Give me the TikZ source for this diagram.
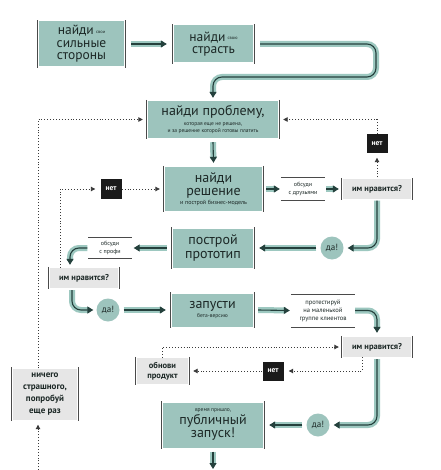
\documentclass[tikz,border=0pt]{standalone}
\usepackage{fontspec}
\setmainfont{PT Sans}
\usetikzlibrary{arrows.meta,calc}
\definecolor{boxteal}{HTML}{9DC4BD}
\definecolor{flowteal}{HTML}{9DC8C0}
\definecolor{flowdark}{HTML}{24403C}
\definecolor{txt}{HTML}{1C2826}
\definecolor{greyfill}{HTML}{E6E6E6}
\definecolor{sidegrey}{HTML}{4A4A4A}
\definecolor{dotgrey}{HTML}{3A3A3A}
\definecolor{netfill}{HTML}{1A1A1A}
\newcommand\fsz[2]{\fontsize{#1}{#2}\selectfont}
\newcommand\smalltxt[1]{{\fsz{5.5}{6.5}#1}}
\newcommand\vsides[1]{\draw[sideline] ([xshift=-1.6pt,yshift=1pt]#1.north west) -- ([xshift=-1.6pt,yshift=-1pt]#1.south west) ([xshift=1.6pt,yshift=1pt]#1.north east) -- ([xshift=1.6pt,yshift=-1pt]#1.south east);}
\newcommand\hrims[1]{\draw[rimline] ([xshift=-2pt]#1.north west) -- ([xshift=2pt]#1.north east) ([xshift=-2pt]#1.south west) -- ([xshift=2pt]#1.south east);}
\tikzset{
 tealbox/.style={fill=boxteal, text=txt, inner sep=0pt, align=center, font=\fsz{14}{14}},
 greybox/.style={fill=greyfill, text=txt, inner sep=0pt, align=center, font=\bfseries\fsz{8.5}{10}},
 whitebox/.style={inner sep=0pt, align=center, text=txt, font=\fsz{6}{7.5}},
 netbox/.style={fill=netfill, text=white, inner sep=0pt, minimum width=21pt, minimum height=19pt, font=\bfseries\fsz{7.5}{8}},
 dacircle/.style={circle, fill=boxteal, text=txt, inner sep=0pt, minimum size=23pt, font=\fsz{9}{9}},
 sideline/.style={draw=sidegrey, line width=0.9pt},
 rimline/.style={draw=sidegrey, line width=0.6pt},
 flow/.style={draw=flowteal, line width=6pt, rounded corners=9pt, shorten >=4pt, postaction={draw=flowdark, line width=1.1pt, shorten >=0pt, -{Triangle[length=6pt,width=7pt]}}},
 dotconn/.style={draw=dotgrey, line width=0.9pt, dash pattern=on 0.9pt off 2pt, -{Triangle[length=4.5pt,width=4.5pt]}},
}
\begin{document}
\begin{tikzpicture}[x=1pt,y=-1pt]
\useasboundingbox[fill=white] (0,0) rectangle (440,470);
% teal boxes
\node[tealbox, minimum width=85pt, minimum height=45pt, font=\fsz{13.5}{12.5}] (b1) at (81.5,44) {найди\,\raisebox{1.5pt}{\fsz{4.5}{5}свои}\\ сильные\\ стороны};
\node[tealbox, minimum width=79pt, minimum height=37pt, font=\fsz{13.5}{12.5}] (b2) at (213.5,44) {найди\,\raisebox{1.5pt}{\fsz{4.5}{5}свою}\\ страсть};
\node[tealbox, minimum width=130pt, minimum height=37pt] (b3) at (213,119.5) {найди проблему,\\[-4pt] \smalltxt{которая еще не решена,}\\[-7pt] \smalltxt{и за решение которой готовы платить}};
\node[tealbox, minimum width=97pt, minimum height=44pt] (b4) at (213.5,189) {найди\\[-1pt] решение\\[-5pt] \fsz{6}{7}и построй бизнес-модель};
\node[tealbox, minimum width=80pt, minimum height=39pt] (b5) at (213,248) {построй\\ прототип};
\node[tealbox, minimum width=81pt, minimum height=33pt] (b6) at (212.5,310) {запусти\\[-5pt] \smalltxt{бета-версию}};
\node[tealbox, minimum width=100pt, minimum height=45pt] (b7) at (213,425) {\smalltxt{время пришло,}\\[-1pt] публичный\\[-1pt] запуск!};
\foreach \n in {b1,b2,b3,b4,b5,b6,b7} {\vsides{\n}}
% white boxes
\node[whitebox, minimum width=40pt, minimum height=22pt] (druz) at (303,189) {обсуди\\ с друзьями};
\node[whitebox, minimum width=39pt, minimum height=21pt] (profi) at (110,248) {обсуди\\ с профи};
\node[whitebox, minimum width=60pt, minimum height=33pt, font=\fsz{6.5}{8}] (test) at (323,310.5) {протестируй\\ на маленькой\\ группе клиентов};
\foreach \n in {druz,profi,test} {\hrims{\n}}
% grey boxes
\node[greybox, minimum width=68pt, minimum height=19pt] (imR1) at (377,189) {им нравится?};
\node[greybox, minimum width=68pt, minimum height=20pt] (imR2) at (377,347) {им нравится?};
\node[greybox, minimum width=68pt, minimum height=20pt] (imL) at (84,278) {им нравится?};
\node[greybox, minimum width=51pt, minimum height=26pt] (obn) at (162.5,371) {обнови\\ продукт};
\node[greybox, minimum width=64pt, minimum height=51pt, font=\bfseries\fsz{9}{12}] (nich) at (45,394) {ничего\\ страшного,\\ попробуй\\ еще раз};
\foreach \n in {imR1,imR2,imL,obn,nich} {\vsides{\n}}
% black boxes
\node[netbox] (net1) at (377,144) {нет};
\node[netbox] (net2) at (273,371) {нет};
\node[netbox] (net3) at (111,189) {нет};
% circles
\node[dacircle] (da1) at (332,248) {да!};
\node[dacircle] (da2) at (108,310) {да!};
\node[dacircle] (da3) at (318,425) {да!};
\coordinate (botc) at (213,469);
\coordinate (botl) at (38,470);
% flow connectors
\draw[flow] ([xshift=7pt]b1.east) -- ([xshift=-7pt]b2.west);
\draw[flow] ([xshift=7pt]b2.east) -- (376,44) -- (376,77) -- (213,77) -- ([yshift=3pt]b3.north);
\draw[flow] ([yshift=-4pt]b3.south) -- ([yshift=4pt]b4.north);
\draw[flow] ([xshift=4pt]b4.east) -- ([xshift=-3pt]druz.west);
\draw[flow] ([xshift=3pt]druz.east) -- ([xshift=-4pt]imR1.west);
\draw[flow] ([yshift=-2pt]imR1.south) |- ([xshift=4pt]da1.east);
\draw[flow] ([xshift=-4pt]da1.west) -- ([xshift=6pt]b5.east);
\draw[flow] ([xshift=-6pt]b5.west) -- ([xshift=4pt]profi.east);
\draw[flow] ([xshift=-3pt]profi.west) -| ([xshift=-14pt,yshift=3pt]imL.north);
\draw[flow] ([xshift=-12pt,yshift=-2pt]imL.south) |- ([xshift=-3pt]da2.west);
\draw[flow] ([xshift=4pt]da2.east) -- ([xshift=-6pt]b6.west);
\draw[flow] ([xshift=5pt]b6.east) -- ([xshift=-3pt]test.west);
\draw[flow] ([xshift=2pt]test.east) -| ([yshift=4pt]imR2.north);
\draw[flow] ([yshift=-2pt]imR2.south) |- ([xshift=4pt]da3.east);
\draw[flow] ([xshift=-4pt]da3.west) -- ([xshift=6pt]b7.east);
\draw[flow] ([yshift=-4pt]b7.south) -- (botc);
% dotted connectors
\draw[dotconn] ([xshift=-7pt]nich.north) |- ([xshift=-5pt]b3.west);
\draw[dotconn] (botl) -- ([xshift=-7pt,yshift=-5pt]nich.south);
\draw[dotconn] ([yshift=2pt]imR1.north) -- ([yshift=-4pt]net1.south);
\draw[dotconn] (net1.north) |- ([xshift=5pt]b3.east);
\draw[dotconn] ([xshift=-24pt]imL.north) |- ([xshift=-5pt]net3.west);
\draw[dotconn] (net3.east) -- ([xshift=-5pt]b4.west);
\draw[dotconn] (obn.north) |- ([xshift=-4pt]imR2.west);
\draw[dotconn] ([xshift=-15pt]imR2.south) |- ([xshift=5pt]net2.east);
\draw[dotconn] (net2.west) -- ([xshift=5pt]obn.east);
\end{tikzpicture}
\end{document}
